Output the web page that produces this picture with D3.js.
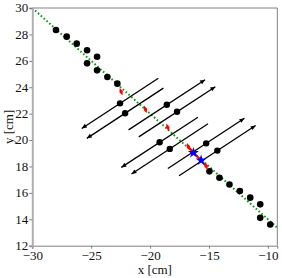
<!DOCTYPE html>
<html>
<head>
<meta charset="utf-8">
<script src="https://cdn.jsdelivr.net/npm/d3@7"></script>
<style>
  body { margin: 0; background: #fff; }
  text { font-family: "Liberation Serif", "DejaVu Serif", serif; }
</style>
</head>
<body>
<div id="chart"></div>
<script>
// Axis ranges and ticks
const xDomain = [-30, -9.2];
const yDomain = [12, 30];
const xTicks = [-30, -25, -20, -15, -10];
const yTicks = [12, 14, 16, 18, 20, 22, 24, 26, 28, 30];

// Fitted track (green dotted)
const lineX = [-30, -9.2];
const lineY = [30, 13.36];

// Black hits
const dotsX = [-27.99, -27.08, -26.23, -25.35, -25.35, -24.50, -24.50, -23.63, -22.78,
               -14.96, -14.11, -13.26, -12.38, -11.50, -10.65, -10.65, -9.80];
const dotsY = [28.33, 27.83, 27.30, 26.80, 25.81, 26.31, 25.28, 24.77, 24.27,
               17.63, 17.14, 16.64, 16.14, 15.64, 15.13, 14.11, 13.60];

// Arrows: centre, direction (+1 head at upper right, -1 head at lower left)
const arrowX = [-22.55, -22.12, -18.58, -17.71, -19.19, -18.33, -15.24, -14.29];
const arrowY = [22.78, 22.03, 22.67, 22.14, 19.83, 19.33, 19.75, 19.20];
const arrowDir = [-1, -1, 1, 1, -1, -1, 1, 1];
const arrowHalf = [3.25, 1.9]; // half length in data units (dx, dy)

// Red markers and blue stars
const redX = [-22.46, -20.40, -18.50, -16.75, -15.24];
const redY = [23.66, 22.33, 20.96, 19.49, 18.03];
const blueX = [-16.32, -15.67];
const blueY = [19.04, 18.46];

const W = 282, H = 278;
const margin = { top: 8, right: 4.7, bottom: 32.3, left: 32.3 };

const svg = d3.select("#chart").append("svg")
    .attr("width", W).attr("height", H);

const x = d3.scaleLinear().domain(xDomain).range([margin.left, W - margin.right]);
const y = d3.scaleLinear().domain(yDomain).range([H - margin.bottom, margin.top]);

// clip to axes area
svg.append("clipPath").attr("id", "clip").append("rect")
    .attr("x", margin.left).attr("y", margin.top)
    .attr("width", W - margin.left - margin.right)
    .attr("height", H - margin.top - margin.bottom);

const plot = svg.append("g").attr("clip-path", "url(#clip)");

// green dotted line
plot.append("path")
    .datum(lineX.map((d, i) => [d, lineY[i]]))
    .attr("d", d3.line().x(d => x(d[0])).y(d => y(d[1])))
    .attr("fill", "none")
    .attr("stroke", "#119911")
    .attr("stroke-width", 2)
    .attr("stroke-dasharray", "1.6,2.2");

// arrows
const arrows = arrowX.map((d, i) => ({ cx: d, cy: arrowY[i], dir: arrowDir[i] }));
arrows.forEach(a => {
    const x0 = x(a.cx - arrowHalf[0]), y0 = y(a.cy - arrowHalf[1]);
    const x1 = x(a.cx + arrowHalf[0]), y1 = y(a.cy + arrowHalf[1]);
    plot.append("line")
        .attr("x1", x0).attr("y1", y0).attr("x2", x1).attr("y2", y1)
        .attr("stroke", "#000").attr("stroke-width", 1.3);
    // head
    const tx = a.dir > 0 ? x1 : x0, ty = a.dir > 0 ? y1 : y0;
    const ang = a.dir > 0 ? Math.atan2(y1 - y0, x1 - x0) : Math.atan2(y0 - y1, x0 - x1);
    const len = 5, wid = 2.2;
    const bx = tx - len * Math.cos(ang), by = ty - len * Math.sin(ang);
    const px = -Math.sin(ang) * wid, py = Math.cos(ang) * wid;
    plot.append("path")
        .attr("d", `M${tx},${ty}L${bx + px},${by + py}L${bx - px},${by - py}Z`)
        .attr("fill", "#000");
});

// arrow centres
plot.selectAll(".acentre")
    .data(arrows)
    .enter().append("circle")
    .attr("cx", d => x(d.cx)).attr("cy", d => y(d.cy))
    .attr("r", 3.2).attr("fill", "#000");

// black hits
plot.selectAll(".dot")
    .data(dotsX.map((d, i) => [d, dotsY[i]]))
    .enter().append("circle")
    .attr("cx", d => x(d[0])).attr("cy", d => y(d[1]))
    .attr("r", 3.3).attr("fill", "#000");

// red segment between last two red markers
plot.append("line")
    .attr("x1", x(redX[3])).attr("y1", y(redY[3]))
    .attr("x2", x(redX[4])).attr("y2", y(redY[4]))
    .attr("stroke", "red").attr("stroke-width", 2);

// red thin diamonds
plot.selectAll(".red")
    .data(redX.map((d, i) => [d, redY[i]]))
    .enter().append("path")
    .attr("transform", d => `translate(${x(d[0])},${y(d[1])}) rotate(-20)`)
    .attr("d", "M0,-4L1.8,0L0,4L-1.8,0Z")
    .attr("fill", "red");

// blue stars
plot.selectAll(".blue")
    .data(blueX.map((d, i) => [d, blueY[i]]))
    .enter().append("path")
    .attr("transform", d => `translate(${x(d[0])},${y(d[1])})`)
    .attr("d", d3.symbol().type(d3.symbolStar).size(38))
    .attr("fill", "blue");

// frame
const x0 = margin.left, x1 = W - margin.right, y0 = margin.top, y1 = H - margin.bottom;
svg.append("line").attr("x1", x0).attr("x2", x1).attr("y1", y0).attr("y2", y0)
    .attr("stroke", "#808080").attr("stroke-width", 1);
svg.append("line").attr("x1", x1).attr("x2", x1).attr("y1", y0).attr("y2", y1)
    .attr("stroke", "#808080").attr("stroke-width", 1);

// axes
const xAxis = svg.append("g")
    .attr("transform", `translate(0,${y1})`)
    .call(d3.axisBottom(x).tickValues(xTicks).tickSize(3).tickPadding(2)
        .tickFormat(d => String(d).replace("-", "\u2212")));
const yAxis = svg.append("g")
    .attr("transform", `translate(${x0},0)`)
    .call(d3.axisLeft(y).tickValues(yTicks).tickSize(3).tickPadding(1));

[xAxis, yAxis].forEach(g => {
    g.attr("font-family", "'Liberation Serif', serif").attr("font-size", 13);
    g.selectAll("text").attr("fill", "#111");
    g.selectAll(".tick line").attr("stroke", "#808080");
});
yAxis.selectAll("text").attr("dy", "0.3em");
xAxis.select(".domain").attr("stroke", "#808080").attr("stroke-width", 1);
yAxis.select(".domain").attr("stroke", "#b0b0b0").attr("stroke-width", 2);

// axis labels
svg.append("text")
    .attr("x", (x0 + x1) / 2).attr("y", 274)
    .attr("text-anchor", "middle").attr("font-size", 13).attr("fill", "#111")
    .text("x [cm]");
svg.append("text")
    .attr("transform", `translate(13,${(y0 + y1) / 2}) rotate(-90)`)
    .attr("text-anchor", "middle").attr("font-size", 13).attr("fill", "#111")
    .text("y [cm]");
</script>
</body>
</html>
